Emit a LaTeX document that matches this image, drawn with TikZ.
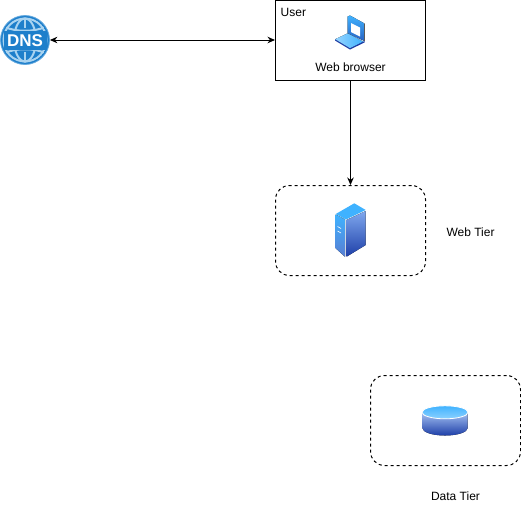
\documentclass[tikz,border=0pt]{standalone}
\usepackage{fontspec}
\setmainfont{Liberation Sans}
\usetikzlibrary{arrows.meta}
\definecolor{dnsblue}{HTML}{1E7FCB}
\definecolor{dnslight}{HTML}{A9D3F0}
\definecolor{iconlight}{HTML}{3FB2FF}
\definecolor{sidetop}{HTML}{7FA8EE}
\definecolor{icondark}{HTML}{1E3FA8}
\tikzset{
  conn/.style={draw=black,line width=1pt,{Stealth[length=7.5pt,width=6.5pt]}-{Stealth[length=7.5pt,width=6.5pt]}},
  connone/.style={draw=black,line width=1pt,-{Stealth[length=7.5pt,width=6.5pt]}},
  solidbox/.style={draw=black,line width=1pt,fill=white,minimum width=150pt,minimum height=80pt,inner sep=0pt},
  tierbox/.style={draw=black,line width=1pt,dash pattern=on 3pt off 3pt,rounded corners=14pt,minimum width=150pt,minimum height=90pt,inner sep=0pt},
  lbl/.style={font=\fontsize{12}{14}\selectfont,inner sep=0pt,text=black},
  globe/.style={draw=dnslight,line width=2pt},
}
\begin{document}
\begin{tikzpicture}[x=1pt,y=-1pt]
\useasboundingbox (0,0) rectangle (521,507);
% boxes
\node[solidbox] (user) at (350.5,40) {};
\node[tierbox] (web) at (350.5,230.5) {};
\node[tierbox] (data) at (445.5,420.5) {};
% DNS icon
\node[circle,fill=dnsblue,draw=dnslight!50!dnsblue,line width=0.8pt,minimum size=49pt,inner sep=0pt] (dns) at (25,40) {};
\begin{scope}
  \clip (25,40) circle (22.5);
  \draw[globe] (25,40) ellipse (11 and 21.5);
  \draw[globe] (25,40) circle (21.5);
  \draw[globe] (5,27) .. controls (15,32) and (35,32) .. (45,27);
  \draw[globe] (5,53) .. controls (15,48) and (35,48) .. (45,53);
  \draw[globe] (25,17) -- (25,28);
  \draw[globe] (25,52) -- (25,63);
\end{scope}
\fill[dnsblue] (3.5,31) rectangle (46.5,49.5);
\node[font=\bfseries\fontsize{17}{19}\selectfont,text=white,inner sep=0pt] (dnstext) at (25,40.5) {DNS};
% laptop
\fill[top color=iconlight,bottom color=icondark!70!iconlight] (347.7,16.5) -- (350,15.5) -- (364.5,23.5) -- (364.5,41) -- (347.7,33.3) -- cycle;
\fill[white] (351,23) -- (360,27.5) -- (360,36.5) -- (351,32) -- cycle;
\fill[left color=iconlight!55!white,right color=iconlight] (335,39.3) -- (347.7,33.3) -- (363.3,41.7) -- (350,48.3) -- cycle;
\fill[icondark] (335,39.3) -- (350,48.3) -- (363.3,41.7) -- (364.5,41) -- (364.5,42.5) -- (350,49.5) -- (335,40.5) -- cycle;
% server
\fill[iconlight] (335.7,214) -- (354.3,203.3) -- (365.7,210) -- (346,219.5) -- cycle;
\fill[top color=iconlight,bottom color=sidetop!60!icondark] (335.7,214.5) -- (345,219.5) -- (345,256.7) -- (335.7,248.3) -- cycle;
\fill[top color=sidetop,bottom color=icondark] (346.5,220) -- (365.7,211) -- (365.7,245) -- (346.5,256.7) -- cycle;
\draw[white,line width=0.6pt] (337.5,226.5) -- (341,228.5) (337.5,231) -- (341,233);
% disk
\fill[top color=sidetop!70!white,bottom color=icondark] (422.3,412) -- (422.3,428) arc[start angle=180,end angle=0,x radius=22.7,y radius=7.5] -- (467.7,412) -- cycle;
\draw[white,line width=0.8pt,top color=iconlight,bottom color=iconlight!60!white] (445,412.3) ellipse (23 and 6.5);
% labels
\node[lbl,anchor=west] (userlbl) at (280.5,12.5) {User};
\node[lbl] (browserlbl) at (350.5,67.5) {Web browser};
\node[lbl] (weblbl) at (470.5,232) {Web Tier};
\node[lbl] (datalbl) at (455.5,496.5) {Data Tier};
% connectors
\draw[conn] (dns.east) -- (user.west);
\draw[connone] (user.south) -- (web.north);
\end{tikzpicture}
\end{document}
